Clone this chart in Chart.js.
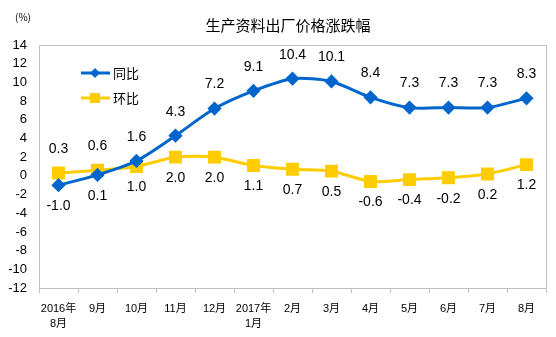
<!DOCTYPE html>
<html>
<head>
<meta charset="utf-8">
<script src="https://cdn.jsdelivr.net/npm/chart.js@4.4.1/dist/chart.umd.min.js"></script>
<style>
  html, body { margin: 0; padding: 0; background: #fff; }
  #wrap { width: 556px; height: 337px; position: relative; }
</style>
</head>
<body>
<div id="wrap"><canvas id="chart_price"></canvas></div>
<script>
const chart_price = document.getElementById('chart_price');

// data
const months = [['2016年', '8月'], '9月', '10月', '11月', '12月', ['2017年', '1月'],
  '2月', '3月', '4月', '5月', '6月', '7月', '8月'];
const yoy = [-1.0, 0.1, 1.6, 4.3, 7.2, 9.1, 10.4, 10.1, 8.4, 7.3, 7.3, 7.3, 8.3];
const mom = [0.3, 0.6, 1.0, 2.0, 2.0, 1.1, 0.7, 0.5, -0.6, -0.4, -0.2, 0.2, 1.2];
// which series gets its label above the point (true = 同比 above)
const yoyAbove = [false, false, true, true, true, true, true, true, true, true, true, true, true];

const BLUE = '#0066CC';
const YELLOW = '#FFCC00';
const FONT = '"Liberation Sans", Arial, "Noto Sans CJK SC", sans-serif';

const frame = {
  id: 'frame',
  beforeDraw(chart) {
    const { ctx, chartArea: a } = chart;
    ctx.save();
    ctx.strokeStyle = '#BFBFBF';
    ctx.lineWidth = 1;
    ctx.strokeRect(Math.round(a.left) + 0.5, Math.round(a.top) + 0.5,
      Math.round(a.right - a.left), Math.round(a.bottom - a.top));
    ctx.restore();
  },
  afterDraw(chart) {
    const { ctx } = chart;
    ctx.save();
    // title and unit
    ctx.fillStyle = '#000';
    ctx.textBaseline = 'middle';
    ctx.textAlign = 'center';
    ctx.font = '15px "Noto Sans CJK SC", sans-serif';
    ctx.fillText('生产资料出厂价格涨跌幅', 288, 25);
    ctx.font = '10px "Noto Sans CJK SC", sans-serif';
    ctx.textAlign = 'left';
    ctx.fillText('(%)', 15, 17);

    // legend inside plot
    const items = [[BLUE, '同比', 'rectRot'], [YELLOW, '环比', 'rect']];
    items.forEach(([c, t, s], i) => {
      const y = 73 + i * 25;
      ctx.strokeStyle = c;
      ctx.fillStyle = c;
      ctx.lineWidth = 3;
      ctx.beginPath();
      ctx.moveTo(81, y);
      ctx.lineTo(110, y);
      ctx.stroke();
      if (s === 'rect') {
        ctx.fillRect(90, y - 5, 10, 10);
      } else {
        ctx.beginPath();
        ctx.moveTo(95, y - 5); ctx.lineTo(100, y); ctx.lineTo(95, y + 5); ctx.lineTo(90, y);
        ctx.closePath();
        ctx.fill();
      }
      ctx.fillStyle = '#000';
      ctx.font = '13px "Noto Sans CJK SC", sans-serif';
      ctx.textAlign = 'left';
      ctx.fillText(t, 113, y);
    });

    // value labels
    const xs = chart.scales.x, ys = chart.scales.y;
    ctx.font = '14px ' + FONT;
    ctx.textAlign = 'center';
    ctx.fillStyle = '#000';
    months.forEach((m, i) => {
      const x = xs.getPixelForValue(i);
      const up = yoyAbove[i];
      const yb = ys.getPixelForValue(yoy[i]) + (up ? -24 : 21);
      const yy = ys.getPixelForValue(mom[i]) + (up ? 21 : -24);
      ctx.fillText(yoy[i].toFixed(1), x, yb);
      ctx.fillText(mom[i].toFixed(1), x, yy);
    });
    ctx.restore();
  }
};

new Chart(chart_price, {
  type: 'line',
  data: {
    labels: months,
    datasets: [{
      label: '同比',
      data: yoy,
      borderColor: BLUE,
      backgroundColor: BLUE,
      borderWidth: 3,
      pointStyle: 'rectRot',
      pointRadius: 5,
      pointHoverRadius: 5,
      tension: 0.25
    }, {
      label: '环比',
      data: mom,
      borderColor: YELLOW,
      backgroundColor: YELLOW,
      borderWidth: 3,
      pointStyle: 'rect',
      pointRadius: 7,
      pointHoverRadius: 7,
      tension: 0.25
    }]
  },
  options: {
    responsive: true,
    maintainAspectRatio: false,
    animation: false,
    layout: { padding: { top: 45, right: 6, left: 0, bottom: 0 } },
    plugins: {
      legend: { display: false },
      title: { display: false },
      tooltip: { enabled: false }
    },
    scales: {
      x: {
        offset: true,
        grid: { display: true, drawOnChartArea: false, offset: true, color: '#BFBFBF', tickLength: 5 },
        border: { color: '#BFBFBF' },
        ticks: {
          color: '#000',
          font: { family: FONT, size: 11, lineHeight: 1.35 },
          maxRotation: 0,
          autoSkip: false,
          padding: 9
        },
        afterFit(scale) {
          scale.height = 49;
          scale.paddingLeft = 0;
          scale.paddingRight = 0;
        }
      },
      y: {
        min: -12,
        max: 14,
        grid: { display: false, drawTicks: false },
        border: { color: '#BFBFBF' },
        ticks: {
          stepSize: 2,
          color: '#000',
          font: { family: FONT, size: 13 },
          padding: 12
        },
        afterFit(scale) { scale.width = 39; }
      }
    }
  },
  plugins: [frame]
});
</script>
</body>
</html>
